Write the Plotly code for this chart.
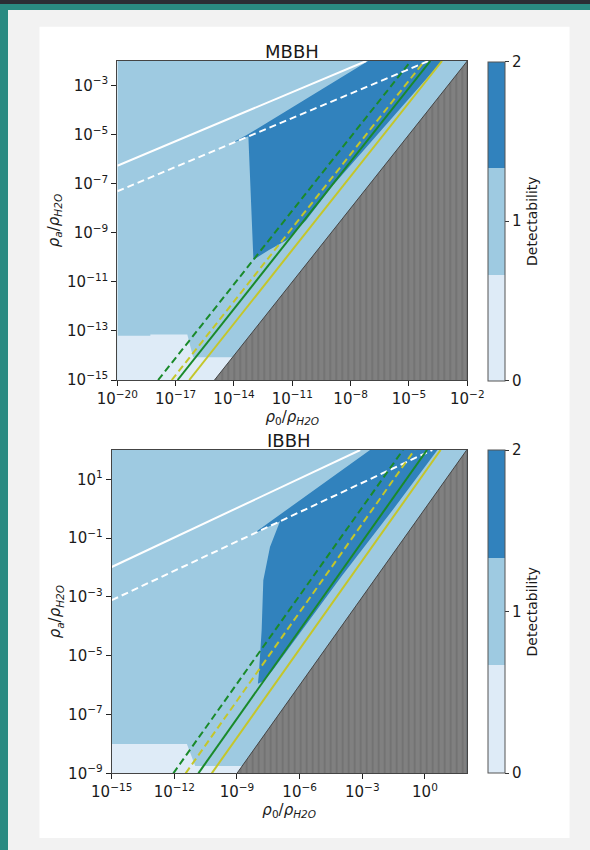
import plotly.graph_objects as go

W, H = 590, 850

# ---------------- colours of the three detectability levels ----------------
LEVEL_COLORS = ['#deebf7', '#9ecae1', '#3182bd']
LEVEL_TICKS = [0, 1, 2]

# ---------------- MBBH (top panel); all numbers are log10 exponents ----------------
mbbh_x_range = [-20, -2]
mbbh_y_range = [-15, -2]
mbbh_x_ticks = [-20, -17, -14, -11, -8, -5, -2]
mbbh_y_ticks = [-15, -13, -11, -9, -7, -5, -3]
# detectability level 0 region (lower left)
mbbh_lvl0_x = [-20, -20, -18.3, -18.3, -16.4, -16.1, -14.07, -15]
mbbh_lvl0_y = [-15, -13.2, -13.2, -13.15, -13.15, -14.07, -14.07, -15]
# detectability level 2 region
mbbh_lvl2_x = [-14.2, -13.3, -7.1, -3.3, -8.95, -10.3, -11.3, -11.9, -12.2, -13.0, -13.26]
mbbh_lvl2_y = [-5.38, -5.0, -2.0, -2.0, -7.1, -8.5, -9.3, -9.55, -9.7, -10.1, -5.07]
# excluded region (rho_a < rho_0)
mbbh_excl_x = [-15, -2, -2]
mbbh_excl_y = [-15, -2, -15]
# curves (end points)
mbbh_white_solid_x, mbbh_white_solid_y = [-20, -7.2], [-6.27, -2]
mbbh_white_dash_x, mbbh_white_dash_y = [-20, -4.0], [-7.31, -2]
mbbh_green_dash_x, mbbh_green_dash_y = [-17.9, -4.9], [-15, -2]
mbbh_yellow_dash_x, mbbh_yellow_dash_y = [-17.2, -4.2], [-15, -2]
mbbh_green_solid_x, mbbh_green_solid_y = [-16.9, -3.9], [-15, -2]
mbbh_yellow_solid_x, mbbh_yellow_solid_y = [-16.3, -3.3], [-15, -2]

# ---------------- IBBH (bottom panel); all numbers are log10 exponents ----------------
ibbh_x_range = [-15, 2]
ibbh_y_range = [-9, 2]
ibbh_x_ticks = [-15, -12, -9, -6, -3, 0]
ibbh_y_ticks = [-9, -7, -5, -3, -1, 1]
ibbh_lvl0_x = [-15, -15, -11.4, -11.0, -8.75, -9]
ibbh_lvl0_y = [-9, -8, -8, -8.75, -8.75, -9]
ibbh_lvl2_x = [-8.22, -2.63, 0.6, -1.5, -4.0, -6.3, -7.3, -7.7, -8.0, -7.95, -7.82, -7.74, -7.42, -6.94]
ibbh_lvl2_y = [-0.85, 2.0, 2.0, 0.0, -2.3, -4.55, -5.5, -5.85, -5.95, -5.6, -4.13, -2.43, -1.3, -0.42]
ibbh_excl_x = [-9, 2, 2]
ibbh_excl_y = [-9, 2, -9]
ibbh_white_solid_x, ibbh_white_solid_y = [-15, -3.1], [-1.98, 2]
ibbh_white_dash_x, ibbh_white_dash_y = [-15, 0.35], [-3.11, 2]
ibbh_green_dash_x, ibbh_green_dash_y = [-12.05, -1.05], [-9, 2]
ibbh_yellow_dash_x, ibbh_yellow_dash_y = [-11.46, -0.5], [-9, 2]
ibbh_green_solid_x, ibbh_green_solid_y = [-10.85, 0.1], [-9, 2]
ibbh_yellow_solid_x, ibbh_yellow_solid_y = [-10.21, 0.75], [-9, 2]

GREEN = '#1a8a2a'
YELLOW = '#c4c62a'
FONT = 'DejaVu Sans'
TXT = '#1a1a1a'


def p(v):
    return [10.0 ** a for a in v]


def sup(e):
    return '10<sup>' + str(e).replace('-', '\u2212') + '</sup>'


fig = go.Figure()


def panel(xa, ya, xr, yr, l0x, l0y, l2x, l2y, exx, exy, curves):
    # level 1 background over the full axes range
    fig.add_trace(go.Scatter(x=p([xr[0], xr[1], xr[1], xr[0]]), y=p([yr[0], yr[0], yr[1], yr[1]]),
                             fill='toself', fillcolor=LEVEL_COLORS[1], mode='lines',
                             line=dict(width=0, color=LEVEL_COLORS[1]), xaxis=xa, yaxis=ya,
                             hoverinfo='skip'))
    fig.add_trace(go.Scatter(x=p(l0x), y=p(l0y), fill='toself', fillcolor=LEVEL_COLORS[0],
                             mode='lines', line=dict(width=0, color=LEVEL_COLORS[0]),
                             xaxis=xa, yaxis=ya, hoverinfo='skip'))
    fig.add_trace(go.Scatter(x=p(l2x), y=p(l2y), fill='toself', fillcolor=LEVEL_COLORS[2],
                             mode='lines', line=dict(width=0, color=LEVEL_COLORS[2]),
                             xaxis=xa, yaxis=ya, hoverinfo='skip'))
    for (cx, cy, col, dash) in curves:
        fig.add_trace(go.Scatter(x=p(cx), y=p(cy), mode='lines',
                                 line=dict(color=col, width=2, dash=dash),
                                 xaxis=xa, yaxis=ya, hoverinfo='skip'))
    fig.add_trace(go.Scatter(x=p(exx), y=p(exy), fill='toself', fillcolor='#808080',
                             fillpattern=dict(shape='|', fgcolor='#555555', bgcolor='#808080',
                                              size=6, solidity=0.2),
                             mode='lines', line=dict(width=1, color='#444444'),
                             xaxis=xa, yaxis=ya, hoverinfo='skip'))


panel('x', 'y', mbbh_x_range, mbbh_y_range, mbbh_lvl0_x, mbbh_lvl0_y, mbbh_lvl2_x, mbbh_lvl2_y,
      mbbh_excl_x, mbbh_excl_y,
      [(mbbh_white_solid_x, mbbh_white_solid_y, 'white', 'solid'),
       (mbbh_white_dash_x, mbbh_white_dash_y, 'white', '7px,4px'),
       (mbbh_green_dash_x, mbbh_green_dash_y, GREEN, '7px,4px'),
       (mbbh_yellow_dash_x, mbbh_yellow_dash_y, YELLOW, '7px,4px'),
       (mbbh_green_solid_x, mbbh_green_solid_y, GREEN, 'solid'),
       (mbbh_yellow_solid_x, mbbh_yellow_solid_y, YELLOW, 'solid')])
panel('x2', 'y2', ibbh_x_range, ibbh_y_range, ibbh_lvl0_x, ibbh_lvl0_y, ibbh_lvl2_x, ibbh_lvl2_y,
      ibbh_excl_x, ibbh_excl_y,
      [(ibbh_white_solid_x, ibbh_white_solid_y, 'white', 'solid'),
       (ibbh_white_dash_x, ibbh_white_dash_y, 'white', '7px,4px'),
       (ibbh_green_dash_x, ibbh_green_dash_y, GREEN, '7px,4px'),
       (ibbh_yellow_dash_x, ibbh_yellow_dash_y, YELLOW, '7px,4px'),
       (ibbh_green_solid_x, ibbh_green_solid_y, GREEN, 'solid'),
       (ibbh_yellow_solid_x, ibbh_yellow_solid_y, YELLOW, 'solid')])

# colour bars (invisible helper markers carry the discrete colour scale)
cscale = [[0, LEVEL_COLORS[0]], [1 / 3, LEVEL_COLORS[0]], [1 / 3, LEVEL_COLORS[1]],
          [2 / 3, LEVEL_COLORS[1]], [2 / 3, LEVEL_COLORS[2]], [1, LEVEL_COLORS[2]]]


def cbar(xa, ya, x0, y0, top_px, bot_px):
    fig.add_trace(go.Scatter(
        x=p([x0]), y=p([y0]), mode='markers', xaxis=xa, yaxis=ya, hoverinfo='skip',
        marker=dict(color=[LEVEL_TICKS[0]], colorscale=cscale, cmin=LEVEL_TICKS[0],
                    cmax=LEVEL_TICKS[-1], opacity=0, size=1, showscale=True,
                    colorbar=dict(
                        x=488.3 / W, xanchor='left', xpad=0, ypad=0,
                        y=1 - (top_px + bot_px) / 2 / H, yanchor='middle',
                        len=(bot_px - top_px) / H, lenmode='fraction', thickness=16.5,
                        outlinecolor='#555555', outlinewidth=1,
                        tickvals=LEVEL_TICKS, ticktext=[str(t) for t in LEVEL_TICKS],
                        ticks='outside', ticklen=4, tickcolor='#333333',
                        tickfont=dict(family=FONT, size=15, color=TXT),
                        title=dict(text='Detectability', side='right',
                                   font=dict(family=FONT, size=14, color=TXT))))))


cbar('x', 'y', mbbh_lvl0_x[0], mbbh_lvl0_y[0], 61.7, 380.7)
cbar('x2', 'y2', ibbh_lvl0_x[0], ibbh_lvl0_y[0], 450, 773.3)

x_title = '<i>\u03c1</i><sub>0</sub>/<i>\u03c1</i><sub><i>H2O</i></sub>'
y_title = '<i>\u03c1</i><sub><i>a</i></sub>/<i>\u03c1</i><sub><i>H2O</i></sub>'


def axis(rng, ticks, domain, anchor, title):
    return dict(type='log', range=rng, domain=domain, anchor=anchor, automargin=False,
                tickvals=p(ticks), ticktext=[sup(t) for t in ticks],
                ticks='outside', ticklen=5, tickwidth=1.3, tickcolor='#222222',
                showline=True, linecolor='#444444', linewidth=1, mirror=True,
                showgrid=False, zeroline=False,
                tickfont=dict(family=FONT, size=15, color=TXT),
                title=dict(text=title, font=dict(family=FONT, size=15, color=TXT), standoff=3))


fig.update_layout(
    width=W, height=H, margin=dict(l=0, r=0, t=0, b=0, pad=0, autoexpand=False), autosize=False,
    paper_bgcolor='#f2f2f2', plot_bgcolor='rgba(0,0,0,0)', showlegend=False,
    font=dict(family=FONT, color=TXT),
    xaxis=axis(mbbh_x_range, mbbh_x_ticks, [117.3 / W, 467.3 / W], 'y', x_title),
    yaxis=axis(mbbh_y_range, mbbh_y_ticks, [1 - 380 / H, 1 - 61 / H], 'x', y_title),
    xaxis2=axis(ibbh_x_range, ibbh_x_ticks, [111.7 / W, 466.7 / W], 'y2', x_title),
    yaxis2=axis(ibbh_y_range, ibbh_y_ticks, [1 - 773.3 / H, 1 - 450 / H], 'x2', y_title),
    shapes=[
        dict(type='rect', xref='paper', yref='paper', x0=0, x1=1, y0=1 - 4 / H, y1=1,
             fillcolor='#2b2d35', line=dict(width=0), layer='below'),
        dict(type='rect', xref='paper', yref='paper', x0=0, x1=1, y0=1 - 10 / H, y1=1 - 4 / H,
             fillcolor='#2a8a82', line=dict(width=0), layer='below'),
        dict(type='rect', xref='paper', yref='paper', x0=0, x1=8 / W, y0=0, y1=1 - 4 / H,
             fillcolor='#2a8a82', line=dict(width=0), layer='below'),
        dict(type='rect', xref='paper', yref='paper', x0=39.5 / W, x1=569.5 / W,
             y0=1 - 838 / H, y1=1 - 26.7 / H,
             fillcolor='white', line=dict(width=0), layer='below'),
    ],
    annotations=[
        dict(text='MBBH', x=292 / W, y=1 - 51 / H, xref='paper', yref='paper', showarrow=False,
             font=dict(family=FONT, size=18, color=TXT), xanchor='center', yanchor='middle'),
        dict(text='IBBH', x=289 / W, y=1 - 440 / H, xref='paper', yref='paper', showarrow=False,
             font=dict(family=FONT, size=18, color=TXT), xanchor='center', yanchor='middle'),
    ],
)

fig.write_html('out.html')
